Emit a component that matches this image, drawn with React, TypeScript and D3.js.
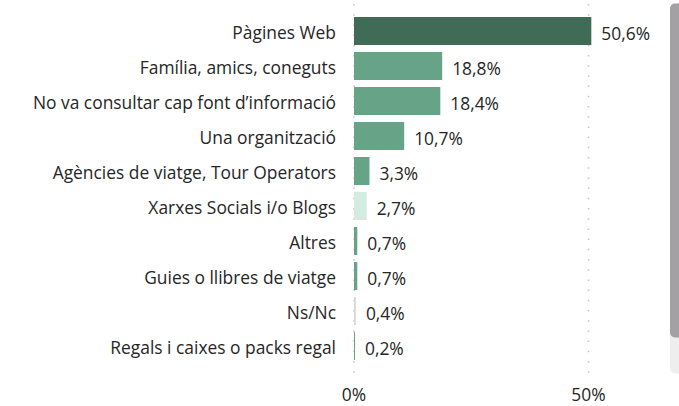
import React from 'react';
import * as d3 from 'd3';

const categories = [
  'Pàgines Web',
  'Família, amics, coneguts',
  'No va consultar cap font d’informació',
  'Una organització',
  'Agències de viatge, Tour Operators',
  'Xarxes Socials i/o Blogs',
  'Altres',
  'Guies o llibres de viatge',
  'Ns/Nc',
  'Regals i caixes o packs regal',
];
const values = [50.6, 18.8, 18.4, 10.7, 3.3, 2.7, 0.7, 0.7, 0.4, 0.2];
const barColors = [
  '#3f6b57', '#67a386', '#67a386', '#67a386', '#67a386',
  '#d3ebe1', '#67a386', '#67a386', '#d9d9d9', '#67a386',
];
const xTicks = [0, 50];

const W = 679;
const H = 406;
const FONT = '"Open Sans", Lato, sans-serif';

const fmt = (v: number) => v.toFixed(1).replace('.', ',') + '%';

const App: React.FC = () => {
  const x = d3.scaleLinear().domain([0, 50]).range([354, 588.5]);
  const y = d3.scaleBand<string>()
    .domain(categories)
    .range([13.5, 363.5])
    .paddingInner(0.2)
    .paddingOuter(0.1);

  return (
    <svg width={W} height={H} style={{ position: 'absolute', left: 0, top: 0 }} fontFamily={FONT}>
      <rect width={W} height={H} fill="#ffffff" />

      {/* dotted grid lines */}
      {xTicks.map(t => (
        <line key={t} x1={x(t)} x2={x(t)} y1={4} y2={374}
          stroke="#c4c4c4" strokeWidth={1.5} strokeDasharray="1.5,8.7" />
      ))}

      {/* bars */}
      {categories.map((c, i) => (
        <rect key={c} x={x(0)} y={y(c)} width={Math.max(1, x(values[i]) - x(0))}
          height={y.bandwidth()} fill={barColors[i]} />
      ))}

      {/* category labels */}
      {categories.map(c => (
        <text key={c} x={336} y={(y(c) as number) + y.bandwidth() / 2 + 1}
          textAnchor="end" dominantBaseline="central" fontSize={17.4} fill="#262626">{c}</text>
      ))}

      {/* value labels */}
      {categories.map((c, i) => (
        <text key={c} x={x(values[i]) + 10} y={(y(c) as number) + y.bandwidth() / 2 + 2}
          dominantBaseline="central" fontSize={17.4} fill="#262626">{fmt(values[i])}</text>
      ))}

      {/* x tick labels */}
      {xTicks.map(t => (
        <text key={t} x={x(t)} y={401} textAnchor="middle" fontSize={17.4} fill="#262626">{t}%</text>
      ))}

      {/* scrollbar */}
      <rect x={670} y={3.5} width={14} height={370} rx={5} fill="#eeeeee" />
      <rect x={670} y={3.5} width={14} height={334} rx={5} fill="#a3a1a3" />
    </svg>
  );
};

export default App;
